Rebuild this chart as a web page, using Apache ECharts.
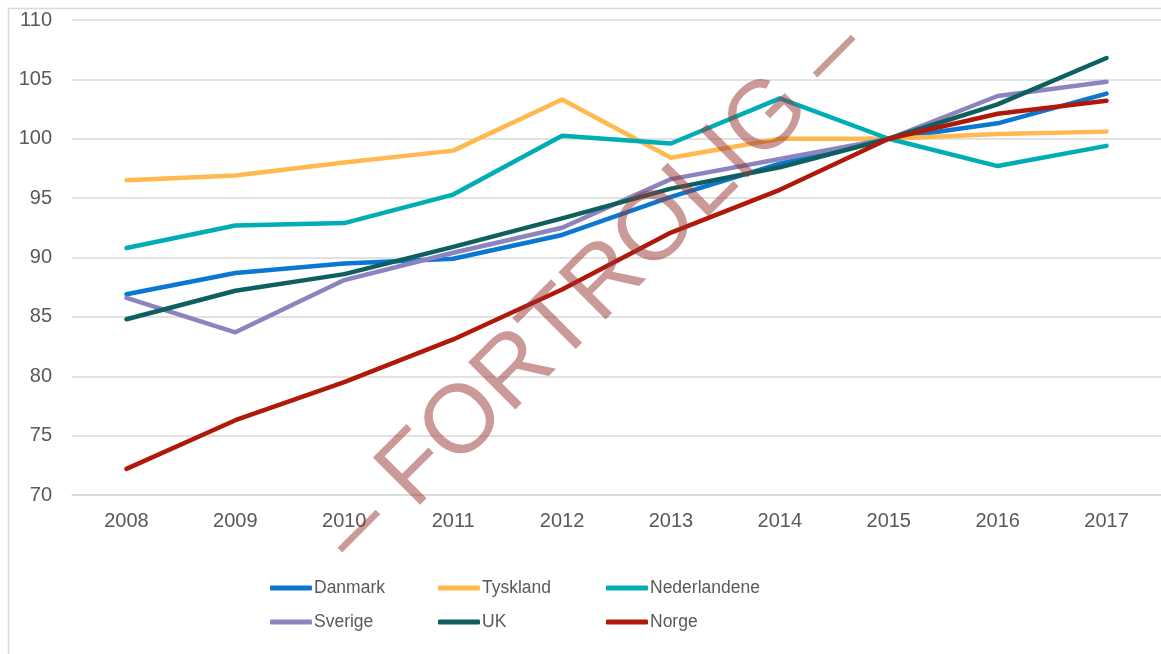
<!DOCTYPE html>
<html>
<head>
<meta charset="utf-8">
<script src="https://cdn.jsdelivr.net/npm/echarts@6/dist/echarts.min.js"></script>
<style>
  html, body { margin: 0; padding: 0; background: #fff; }
  #main { width: 1161px; height: 654px; }
</style>
</head>
<body>
<div id="main"></div>
<script>
// data
const years = ["2008", "2009", "2010", "2011", "2012", "2013", "2014", "2015", "2016", "2017"];
const danmark = [86.9, 88.7, 89.5, 89.9, 91.9, 95.1, 97.9, 100, 101.3, 103.8];
const tyskland = [96.5, 96.9, 98.0, 99.0, 103.3, 98.4, 100.0, 100, 100.4, 100.6];
const nederlandene = [90.8, 92.7, 92.9, 95.3, 100.25, 99.6, 103.4, 100, 97.7, 99.4];
const sverige = [86.6, 83.7, 88.1, 90.4, 92.5, 96.6, 98.3, 100, 103.6, 104.8];
const uk = [84.8, 87.2, 88.6, 90.9, 93.3, 95.8, 97.6, 100, 102.9, 106.8];
const norge = [72.2, 76.3, 79.5, 83.1, 87.3, 92.1, 95.7, 100, 102.1, 103.2];

const seriesNames = ["Danmark", "Tyskland", "Nederlandene", "Sverige", "UK", "Norge"];
const seriesData = [danmark, tyskland, nederlandene, sverige, uk, norge];
const seriesColors = ["#0A78D2", "#FFB94F", "#00ADB5", "#8B84BE", "#0E6060", "#B0190A"];

const labelFont = "Arial, 'Liberation Sans', sans-serif";

var myChart = echarts.init(document.querySelector("#main"));

var option = {
  backgroundColor: "#fff",
  animation: false,
  grid: { left: 72, top: 20, right: -11, bottom: 159 },
  legend: {
    left: 270,
    top: 571,
    width: 510,
    padding: 0,
    itemGap: 0,
    itemWidth: 42,
    itemHeight: 5,
    itemStyle: { borderWidth: 0 },
    icon: "roundRect",
    data: seriesNames,
    textStyle: {
      fontFamily: labelFont,
      fontSize: 17.5,
      color: "#595959",
      width: 124,
      lineHeight: 34,
      padding: [0, 0, 0, -3]
    }
  },
  xAxis: {
    type: "category",
    data: years,
    boundaryGap: true,
    axisTick: { show: false },
    axisLine: { show: true, lineStyle: { color: "#D9D9D9", width: 1.5 } },
    axisLabel: { fontFamily: labelFont, fontSize: 20, color: "#595959", margin: 16 }
  },
  yAxis: {
    type: "value",
    min: 70,
    max: 110,
    interval: 5,
    axisLine: { show: false },
    axisTick: { show: false },
    axisLabel: { fontFamily: labelFont, fontSize: 20, color: "#595959", margin: 20 },
    splitLine: { lineStyle: { color: "#D9D9D9", width: 1.5 } }
  },
  series: [],
  graphic: [
    {
      type: "rect",
      silent: true,
      z: -1,
      shape: { x: 8.5, y: 8.5, width: 1300, height: 800 },
      style: { fill: "none", stroke: "#D9D9D9", lineWidth: 1.5 }
    },
    {
      type: "text",
      silent: true,
      z: 100,
      x: 595,
      y: 292,
      rotation: Math.PI / 4,
      style: {
        text: "– FORTROLIG –",
        fontFamily: labelFont,
        fontSize: 97,
        fill: "rgba(153, 51, 51, 0.5)",
        align: "center",
        verticalAlign: "middle"
      }
    }
  ]
};

for (var i = 0; i < seriesNames.length; i++) {
  option.series.push({
    name: seriesNames[i],
    type: "line",
    data: seriesData[i],
    showSymbol: false,
    symbol: "none",
    color: seriesColors[i],
    lineStyle: { width: 4.5, cap: "round", join: "round" }
  });
}

myChart.setOption(option);
</script>
</body>
</html>
